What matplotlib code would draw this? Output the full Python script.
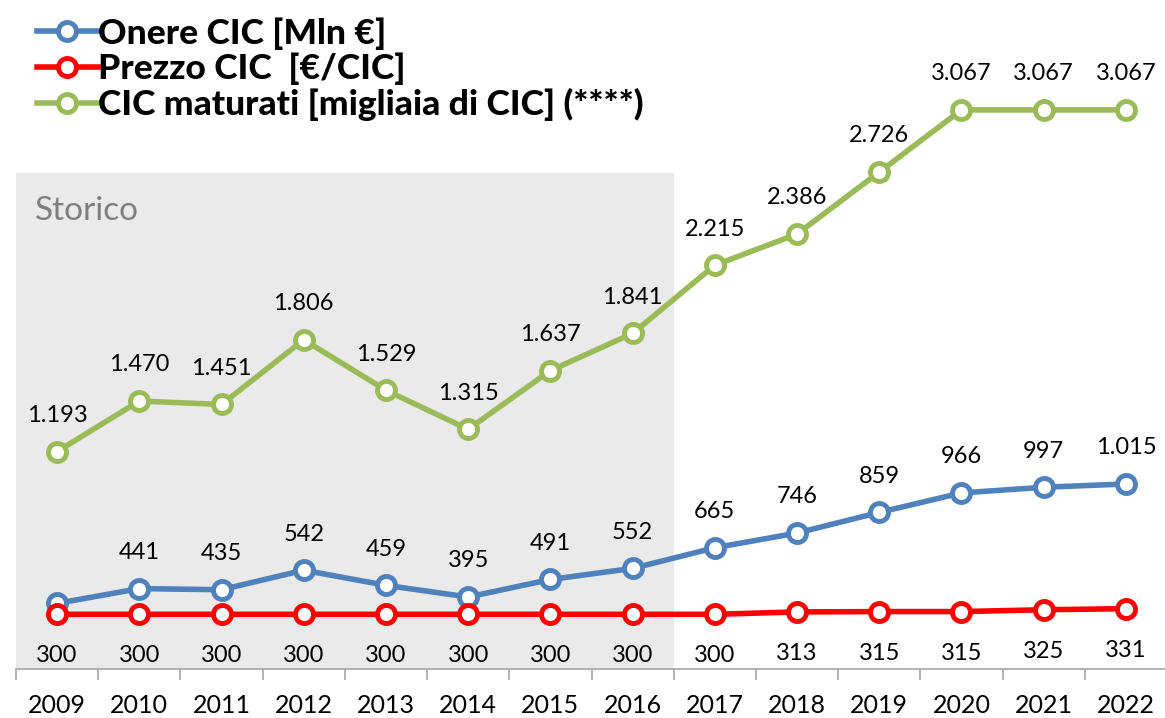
import matplotlib
matplotlib.use("Agg")
import matplotlib.pyplot as plt
import numpy as np

# Data
years = ["2009", "2010", "2011", "2012", "2013", "2014", "2015",
         "2016", "2017", "2018", "2019", "2020", "2021", "2022"]
onere = [360, 441, 435, 542, 459, 395, 491, 552, 665, 746, 859, 966, 997, 1015]
prezzo = [300, 300, 300, 300, 300, 300, 300, 300, 300, 313, 315, 315, 325, 331]
maturati = [1193, 1470, 1451, 1806, 1529, 1315, 1637, 1841, 2215, 2386, 2726, 3067, 3067, 3067]
storico_years = 8          # first 8 years are historical
storico_top = 2720

labels = ["Onere CIC [Mln €]", "Prezzo CIC  [€/CIC]", "CIC maturati [migliaia di CIC] (****)"]
colors = ["#4F81BD", "#FF0000", "#9BBB59"]

plt.rcParams["font.family"] = ["Lato", "DejaVu Sans"]


def fmt(v):
    return f"{v:,}".replace(",", ".")


def main():
    fig = plt.figure(figsize=(11.65, 7.18), dpi=100)
    ax = fig.add_axes([16 / 1165, 49 / 718, 1151 / 1165, 669 / 718])
    x = np.arange(len(years))

    # shaded "Storico" area
    ax.fill_between([-0.5, storico_years - 0.5], 0, storico_top, color="#EAEAEA", zorder=0, lw=0)
    ax.text(-0.27, 2515, "Storico", fontsize=24, color="#7F7F7F", va="center", ha="left")

    series = [onere, prezzo, maturati]
    for vals, col, lab in zip(series, colors, labels):
        ax.plot(x, vals, color=col, lw=4, marker="o", ms=13, mew=3.5,
                mfc="white", mec=col, label=lab, zorder=3)

    # data labels
    for i, v in enumerate(maturati):
        ax.annotate(fmt(v), (x[i], v), xytext=(0, 26), textcoords="offset points",
                    ha="center", va="center", fontsize=17)
    for i, v in enumerate(onere):
        if i == 0:
            continue
        ax.annotate(fmt(v), (x[i], v), xytext=(0, 26), textcoords="offset points",
                    ha="center", va="center", fontsize=17)
    for i, v in enumerate(prezzo):
        ax.annotate(fmt(v), (x[i], v), xytext=(0, -30), textcoords="offset points",
                    ha="center", va="center", fontsize=17)

    ax.set_xlim(-0.5, len(years) - 0.5)
    ax.set_ylim(0, 3670)
    ax.set_yticks([])
    for s in ["left", "right", "top"]:
        ax.spines[s].set_visible(False)
    ax.spines["bottom"].set_color("#A6A6A6")
    ax.spines["bottom"].set_linewidth(1.2)

    ax.set_xticks(x)
    ax.set_xticklabels(years, fontsize=18)
    ax.tick_params(axis="x", which="major", length=0, pad=18)
    ax.set_xticks(np.arange(-0.5, len(years), 1), minor=True)
    ax.tick_params(axis="x", which="minor", length=8, color="#A6A6A6", width=1.2)

    fig.legend(*ax.get_legend_handles_labels(), loc="upper left",
               bbox_to_anchor=(37 / 1165, 1 - 17 / 718), frameon=False,
               prop={"weight": 900, "size": 25.5}, handlelength=1.72,
               handletextpad=0.0, labelspacing=0.08, borderaxespad=0, borderpad=0)

    fig.savefig("out.png", dpi=100)


if __name__ == "__main__":
    main()
